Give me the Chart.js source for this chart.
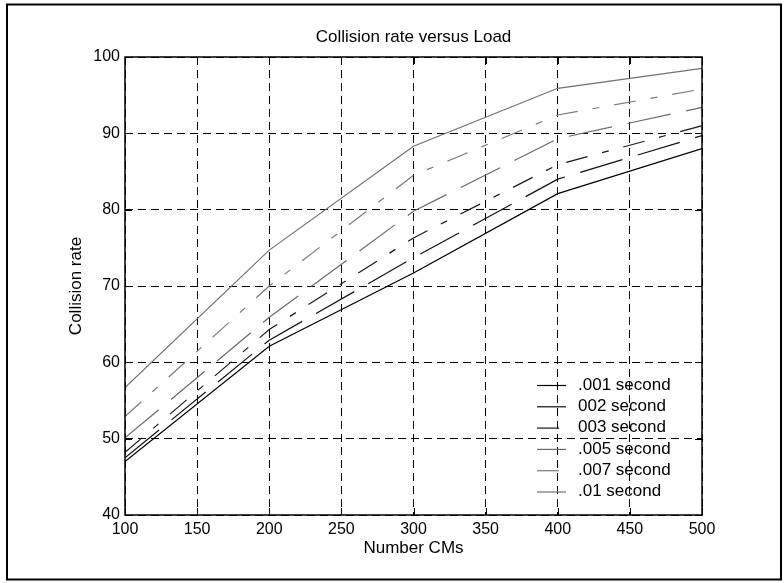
<!DOCTYPE html>
<html>
<head>
<meta charset="utf-8">
<script src="https://cdn.jsdelivr.net/npm/chart.js@4.4.0/dist/chart.umd.min.js"></script>
<style>
  html, body { margin: 0; padding: 0; background: #fff; }
  #wrap { width: 784px; height: 583px; }
</style>
</head>
<body>
<div id="wrap"><canvas id="chart" width="784" height="583"></canvas></div>
<script>
// Number of CMs on the x axis
const loads = [100, 200, 300, 400, 500];

// collision rate per timeout setting
const rate001 = [47.0, 62.1, 71.7, 82.1, 88.0];
const rate002 = [47.5, 62.9, 73.7, 84.0, 89.7];
const rate003 = [48.2, 64.3, 76.3, 85.9, 91.0];
const rate005 = [50.1, 65.9, 79.8, 89.3, 93.4];
const rate007 = [52.9, 70.0, 84.5, 92.4, 95.8];
const rate01  = [56.7, 74.7, 88.3, 95.9, 98.5];

const seriesNames = ['.001 second', '002 second', '003 second', '.005 second', '.007 second', '.01 second'];
const seriesValues = [rate001, rate002, rate003, rate005, rate007, rate01];

const xTicks = [100, 150, 200, 250, 300, 350, 400, 450, 500];
const yTicks = [40, 50, 60, 70, 80, 90, 100];

const colors = ['#000', '#111', '#1a1a1a', '#6a6a6a', '#7a7a7a', '#707070'];
const dashes = [[], [44, 16], [22, 15, 7, 15], [44, 16], [22, 15, 7, 15], []];

const FONT = "'Liberation Sans', Arial, Helvetica, sans-serif";

const boxPlugin = {
  id: 'matlabBox',
  afterDraw(chart) {
    const { ctx, chartArea: a, scales } = chart;
    ctx.save();
    ctx.setLineDash([]);
    ctx.strokeStyle = '#000';

    // inner tick marks on all four sides
    ctx.lineWidth = 1;
    const tl = 7;
    scales.x.ticks.forEach(t => {
      const px = Math.round(scales.x.getPixelForValue(t.value)) + 0.5;
      ctx.beginPath();
      ctx.moveTo(px, a.bottom); ctx.lineTo(px, a.bottom - tl);
      ctx.moveTo(px, a.top); ctx.lineTo(px, a.top + tl);
      ctx.stroke();
    });
    scales.y.ticks.forEach(t => {
      const py = Math.round(scales.y.getPixelForValue(t.value)) + 0.5;
      ctx.beginPath();
      ctx.moveTo(a.left, py); ctx.lineTo(a.left + tl, py);
      ctx.moveTo(a.right, py); ctx.lineTo(a.right - tl, py);
      ctx.stroke();
    });

    // axes box
    ctx.lineWidth = 1.5;
    ctx.strokeRect(a.left, a.top, a.right - a.left, a.bottom - a.top);

    // legend, no box, drawn over the grid
    const lx = 537, tx = 578;
    let ly = 385;
    ctx.font = '17px ' + FONT;
    ctx.textBaseline = 'middle';
    ctx.textAlign = 'left';
    chart.data.datasets.forEach(ds => {
      ctx.strokeStyle = ds.borderColor;
      ctx.lineWidth = 1.2;
      ctx.setLineDash(ds.borderDash || []);
      ctx.beginPath();
      ctx.moveTo(lx, ly + 0.5); ctx.lineTo(lx + 29, ly + 0.5);
      ctx.stroke();
      ctx.fillStyle = '#000';
      ctx.fillText(ds.label, tx, ly);
      ly += 21.3;
    });

    // outer figure frame
    ctx.setLineDash([]);
    ctx.strokeStyle = '#000';
    ctx.lineWidth = 2;
    ctx.strokeRect(7, 4.5, 774, 575);
    ctx.restore();
  }
};

const datasets = seriesNames.map((name, i) => ({
  label: name,
  data: loads.map((x, j) => ({ x: x, y: seriesValues[i][j] })),
  borderColor: colors[i],
  borderDash: dashes[i],
  borderWidth: 1.2,
  pointRadius: 0,
  fill: false,
  tension: 0
}));

new Chart(document.getElementById('chart'), {
  type: 'line',
  data: { datasets },
  options: {
    responsive: false,
    animation: false,
    layout: { padding: { left: 0, right: 82, top: 0, bottom: 0 } },
    plugins: {
      legend: { display: false },
      tooltip: { enabled: false },
      title: {
        display: true,
        text: 'Collision rate versus Load',
        fullSize: false,
        color: '#000',
        font: { family: FONT, size: 17, weight: 'normal', lineHeight: 1.2 },
        padding: { top: 27, bottom: 9.6 }
      }
    },
    scales: {
      x: {
        type: 'linear',
        min: 100, max: 500,
        afterBuildTicks: s => { s.ticks = xTicks.map(v => ({ value: v })); },
        afterFit: s => { s.height = 68; },
        ticks: { color: '#000', padding: 5, maxRotation: 0, font: { family: FONT, size: 16 } },
        grid: { color: '#000', lineWidth: 1, drawTicks: false },
        border: { display: false, dash: [8, 5] },
        title: {
          display: true, text: 'Number CMs', color: '#000',
          font: { family: FONT, size: 17, lineHeight: 1.2 },
          padding: { top: 0, bottom: 24 }
        }
      },
      y: {
        type: 'linear',
        min: 40, max: 100,
        afterBuildTicks: s => { s.ticks = yTicks.map(v => ({ value: v })); },
        afterFit: s => { s.width = 125; },
        ticks: { color: '#000', padding: 5, font: { family: FONT, size: 16 } },
        grid: { color: '#000', lineWidth: 1, drawTicks: false },
        border: { display: false, dash: [8, 5] },
        title: {
          display: true, text: 'Collision rate', color: '#000',
          font: { family: FONT, size: 17, lineHeight: 1.2 },
          padding: { top: 66, bottom: 0 }
        }
      }
    }
  },
  plugins: [boxPlugin]
});
</script>
</body>
</html>
